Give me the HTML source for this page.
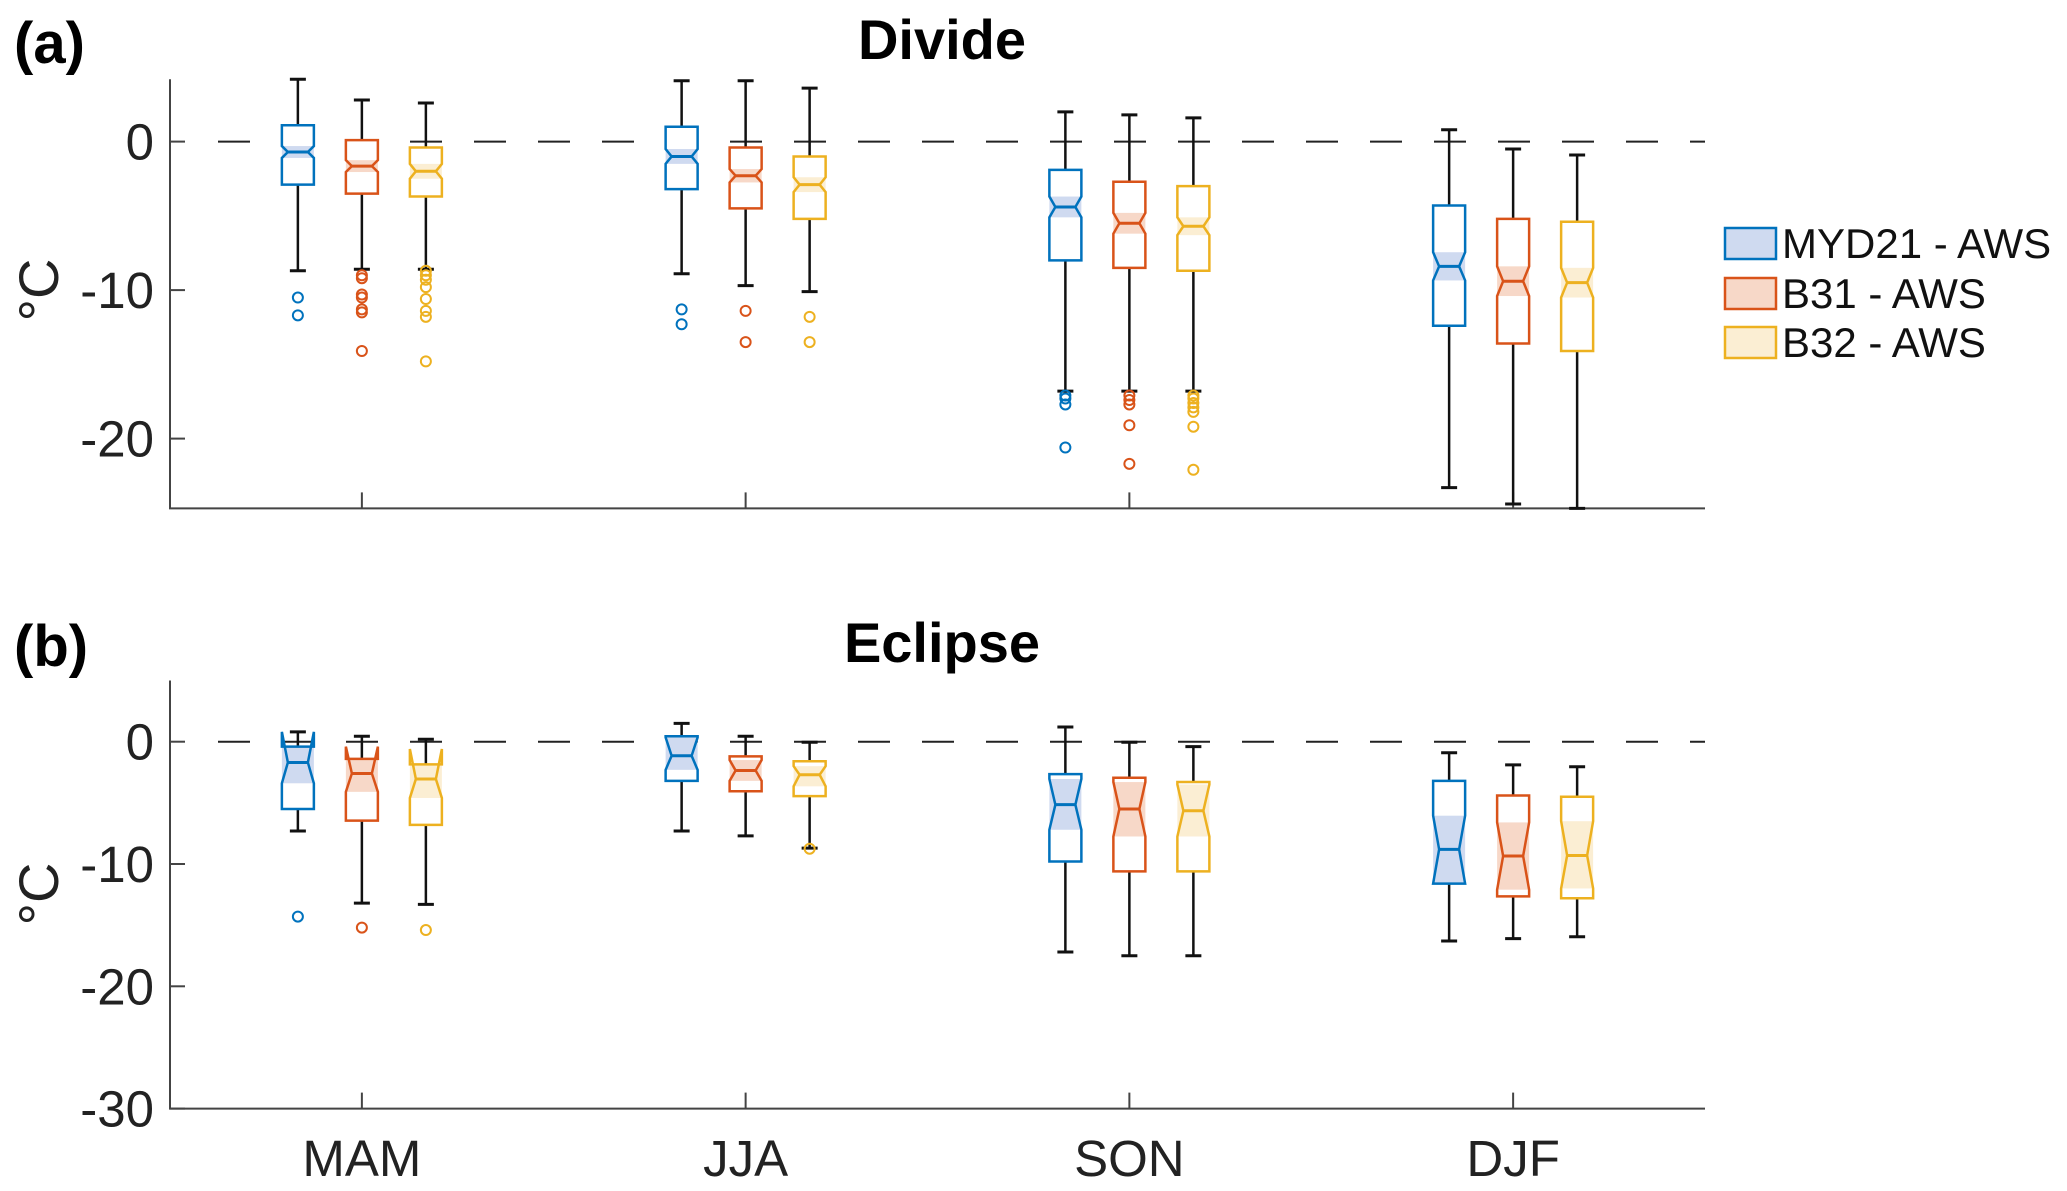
<!DOCTYPE html>
<html><head><meta charset="utf-8"><style>
html,body{margin:0;padding:0;background:#fff;}
svg{display:block;font-family:"Liberation Sans",Arial,sans-serif;}
</style></head><body>
<svg id="chart" width="2067" height="1191" viewBox="0 0 2067 1191"></svg>
<script>
const categories = ["MAM","JJA","SON","DJF"];
const seriesNames = ["MYD21 - AWS","B31 - AWS","B32 - AWS"];
// Panel a (Divide): [category][series]
const aUpper = [[4.2,2.8,2.6],[4.1,4.1,3.6],[2.0,1.8,1.6],[0.8,-0.5,-0.9]];
const aQ3    = [[1.1,0.1,-0.4],[1.0,-0.4,-1.0],[-1.9,-2.7,-3.0],[-4.3,-5.2,-5.4]];
const aMed   = [[-0.7,-1.65,-2.0],[-1.0,-2.3,-2.9],[-4.4,-5.5,-5.7],[-8.4,-9.4,-9.5]];
const aQ1    = [[-2.9,-3.5,-3.7],[-3.2,-4.5,-5.2],[-8.0,-8.5,-8.7],[-12.4,-13.6,-14.1]];
const aLower = [[-8.7,-8.6,-8.6],[-8.9,-9.7,-10.1],[-16.8,-16.8,-16.8],[-23.3,-24.4,-24.7]];
const aNotchHi = [[-0.3,-1.25,-1.5],[-0.5,-1.85,-2.4],[-3.7,-4.8,-5.1],[-7.45,-8.4,-8.5]];
const aNotchLo = [[-1.1,-2.05,-2.5],[-1.5,-2.75,-3.4],[-5.1,-6.2,-6.3],[-9.35,-10.4,-10.5]];
const aOutliers = [
 [[-10.5,-11.7],[-9.0,-9.2,-10.3,-10.5,-11.3,-11.5,-14.1],[-8.7,-9.0,-9.3,-9.8,-10.6,-11.4,-11.8,-14.8]],
 [[-11.3,-12.3],[-11.4,-13.5],[-11.8,-13.5]],
 [[-17.1,-17.3,-17.7,-20.6],[-17.1,-17.4,-17.7,-19.1,-21.7],[-17.1,-17.3,-17.6,-17.9,-18.2,-19.2,-22.1]],
 [[],[],[]]
];
// Panel b (Eclipse)
const bUpper = [[0.8,0.45,0.2],[1.5,0.45,-0.05],[1.2,-0.05,-0.4],[-0.9,-1.9,-2.05]];
const bQ3    = [[-0.4,-1.4,-1.85],[0.45,-1.2,-1.6],[-2.65,-2.95,-3.3],[-3.2,-4.4,-4.5]];
const bMed   = [[-1.7,-2.6,-3.05],[-1.15,-2.35,-2.7],[-5.15,-5.5,-5.65],[-8.8,-9.35,-9.3]];
const bQ1    = [[-5.5,-6.45,-6.8],[-3.2,-4.05,-4.45],[-9.8,-10.6,-10.6],[-11.6,-12.65,-12.8]];
const bLower = [[-7.3,-13.2,-13.3],[-7.3,-7.7,-8.7],[-17.2,-17.5,-17.5],[-16.3,-16.1,-15.95]];
const bNotchHi = [[0.8,-0.4,-0.6],[0.35,-1.5,-2.0],[-3.05,-3.3,-3.5],[-6.05,-6.6,-6.5]];
const bNotchLo = [[-3.4,-4.1,-4.6],[-2.3,-3.2,-3.65],[-7.2,-7.75,-7.75],[-11.6,-12.1,-12.0]];
const bOutliers = [
 [[-14.3],[-15.2],[-15.4]],
 [[],[],[-8.75]],
 [[],[],[]],
 [[],[],[]]
];
const aTicks = [0,-10,-20];
const bTicks = [0,-10,-20,-30];

const edge = ["#0072BD","#D95319","#EDB120"];
const fillc = ["#cfdaf0","#f7d8c8","#fbeed3"];
const NS="http://www.w3.org/2000/svg";
const svg=document.getElementById('chart');
function mk(tag,attrs,parent){const e=document.createElementNS(NS,tag);for(const k in attrs)e.setAttribute(k,attrs[k]);(parent||svg).appendChild(e);return e;}

const xL=170,xR=1705;
function xScale(v){return xL+(v-0.5)*(xR-xL)/4;}

function drawPanel(p){
  const g=mk('g',{});
  
  
  const y=v=>p.y0-(v*p.pxPer10/10);
  const yTop=y(p.ymax), yBot=y(p.ymin);
  const zl=mk('line',{x1:218,x2:xR,y1:y(0),y2:y(0),stroke:'#222','stroke-width':2,'stroke-dasharray':'32 32'},g);
  
  
  const ax=mk('path',{d:`M${xL},${yTop} L${xL},${yBot} L${xR},${yBot}`,fill:'none',stroke:'#444','stroke-width':2},g);
  
  
  p.ticks.forEach(t=>{
    mk('line',{x1:xL,x2:xL+15,y1:y(t),y2:y(t),stroke:'#444','stroke-width':2},g);
    const tl=mk('text',{x:154,y:y(t)+18,'text-anchor':'end','font-size':51,fill:'#222'},g);
    tl.textContent=String(t);
    
    
  });
  categories.forEach((c,i)=>{
    const cx=xScale(i+1);
    mk('line',{x1:cx,x2:cx,y1:yBot,y2:yBot-16,stroke:'#444','stroke-width':2},g);
    if(p.xlabels){
      const xl=mk('text',{x:cx,y:1176,'text-anchor':'middle','font-size':51,fill:'#222'},g);
      xl.textContent=c;
      
      
    }
    for(let s=0;s<3;s++){
      const bx=cx+(s-1)*64, hw=16, ind=6;
      const bg=mk('g',{},g);
      
      
      const q3=p.q3[i][s],q1=p.q1[i][s],md=p.med[i][s],nh=p.nhi[i][s],nl=p.nlo[i][s];
      mk('line',{x1:bx,x2:bx,y1:y(p.up[i][s]),y2:y(q3),stroke:'#111','stroke-width':2.5},bg);
      mk('line',{x1:bx,x2:bx,y1:y(q1),y2:y(p.lo[i][s]),stroke:'#111','stroke-width':2.5},bg);
      mk('line',{x1:bx-8,x2:bx+8,y1:y(p.up[i][s]),y2:y(p.up[i][s]),stroke:'#111','stroke-width':3},bg);
      mk('line',{x1:bx-8,x2:bx+8,y1:y(p.lo[i][s]),y2:y(p.lo[i][s]),stroke:'#111','stroke-width':3},bg);
      mk('rect',{x:bx-hw,y:y(q3),width:2*hw,height:y(q1)-y(q3),fill:'#fff'},bg);
      const fTop=Math.min(nh,q3),fBot=Math.max(nl,q1);
      if(fTop>fBot) mk('rect',{x:bx-hw,y:y(fTop),width:2*hw,height:y(fBot)-y(fTop),fill:fillc[s]},bg);
      const L=bx-hw,R=bx+hw;
      const d=`M${L},${y(q1)} L${L},${y(nl)} L${L+ind},${y(md)} L${L},${y(nh)} L${L},${y(q3)} L${R},${y(q3)} L${R},${y(nh)} L${R-ind},${y(md)} L${R},${y(nl)} L${R},${y(q1)} Z`;
      mk('path',{d:d,fill:'none',stroke:edge[s],'stroke-width':2.5,'stroke-linejoin':'miter'},bg);
      mk('line',{x1:L+ind,x2:R-ind,y1:y(md),y2:y(md),stroke:edge[s],'stroke-width':3},bg);
      p.out[i][s].forEach(o=>{
        const oc=mk('circle',{cx:bx,cy:y(o),r:5,fill:'none',stroke:edge[s],'stroke-width':2},bg);
        
        
      });
    }
  });
  const ttl=mk('text',{x:942,y:p.titleY,'text-anchor':'middle','font-size':56,'font-weight':'bold',fill:'#000'},g);
  ttl.textContent=p.title;
  
  
  const lab=mk('text',{x:14,y:p.titleY+4,'font-size':58,'font-weight':'bold',fill:'#000'},g);
  lab.textContent=p.label;
  
  
  const yl=mk('text',{x:0,y:0,'text-anchor':'middle','font-size':56,fill:'#222',transform:`translate(58,${p.ylabY}) rotate(-90)`},g);
  yl.textContent='°C';
  
  
}

drawPanel({name:'panel-divide',y0:141.6,pxPer10:148.5,ymax:4.2,ymin:-24.7,ticks:aTicks,
 up:aUpper,q3:aQ3,med:aMed,q1:aQ1,lo:aLower,nhi:aNotchHi,nlo:aNotchLo,out:aOutliers,
 title:'Divide',label:'(a)',titleY:59,ylabY:290,xlabels:false});
drawPanel({name:'panel-eclipse',y0:741.7,pxPer10:122.3,ymax:5,ymin:-30,ticks:bTicks,
 up:bUpper,q3:bQ3,med:bMed,q1:bQ1,lo:bLower,nhi:bNotchHi,nlo:bNotchLo,out:bOutliers,
 title:'Eclipse',label:'(b)',titleY:662,ylabY:894,xlabels:true});

const lg=mk('g',{});


const rowsY=[228,278,327];
seriesNames.forEach((n,s)=>{
  const e=mk('g',{},lg);
  
  
  mk('rect',{x:1725,y:rowsY[s],width:51,height:31,fill:fillc[s],stroke:edge[s],'stroke-width':2.5},e);
  const t=mk('text',{x:1782,y:rowsY[s]+30,'font-size':42,fill:'#111'},e);
  t.textContent=n;
});
</script>
</body></html>
